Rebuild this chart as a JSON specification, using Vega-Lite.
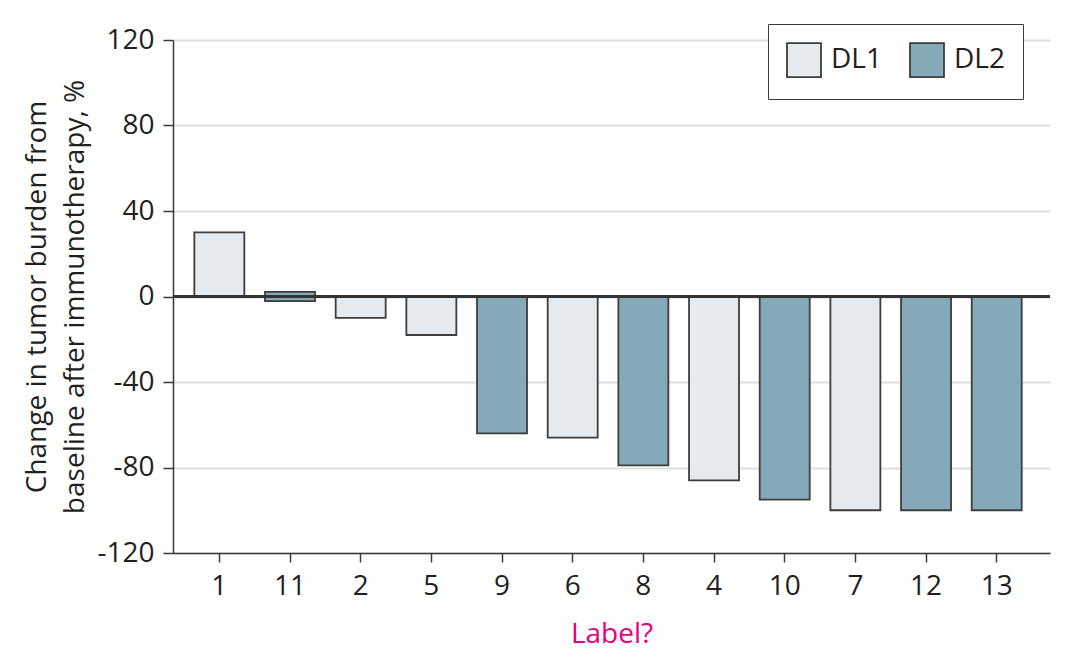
{
  "$schema": "https://vega.github.io/schema/vega-lite/v6.json",
  "description": "Waterfall-style bar chart of change in tumor burden by patient, coloured by dose level",
  "autosize": {"type": "none"},
  "padding": {"left": 173, "top": 40, "right": 30, "bottom": 107},
  "width": 877,
  "height": 513,
  "background": "white",
  "config": {
    "view": {"stroke": null},
    "font": "Open Sans",
    "axis": {
      "labelFont": "Open Sans",
      "titleFont": "Open Sans",
      "labelColor": "#231f20",
      "titleColor": "#231f20",
      "domainColor": "#3a3a3a",
      "tickColor": "#3a3a3a",
      "domainWidth": 1.5,
      "tickWidth": 1.5
    }
  },
  "data": {
    "values": [
      {"patient": "1", "value": 30, "base": 0, "dose": "DL1"},
      {"patient": "11", "value": 2.2, "base": -2.2, "dose": "DL2"},
      {"patient": "2", "value": -10, "base": 0, "dose": "DL1"},
      {"patient": "5", "value": -18, "base": 0, "dose": "DL1"},
      {"patient": "9", "value": -64, "base": 0, "dose": "DL2"},
      {"patient": "6", "value": -66, "base": 0, "dose": "DL1"},
      {"patient": "8", "value": -79, "base": 0, "dose": "DL2"},
      {"patient": "4", "value": -86, "base": 0, "dose": "DL1"},
      {"patient": "10", "value": -95, "base": 0, "dose": "DL2"},
      {"patient": "7", "value": -100, "base": 0, "dose": "DL1"},
      {"patient": "12", "value": -100, "base": 0, "dose": "DL2"},
      {"patient": "13", "value": -100, "base": 0, "dose": "DL2"}
    ]
  },
  "layer": [
    {
      "mark": {"type": "bar", "stroke": "#3d3d3d", "strokeWidth": 1.8},
      "encoding": {
        "x": {
          "field": "patient",
          "type": "nominal",
          "sort": null,
          "scale": {"paddingInner": 0.2925, "paddingOuter": 0.351, "align": 0.43},
          "axis": {
            "title": "Label?",
            "titleColor": "#e5007e",
            "titleFontSize": 28,
            "titleFontWeight": "normal",
            "titleBaseline": "alphabetic",
            "titleY": 89,
            "labelAngle": 0,
            "labelFontSize": 28,
            "labelPadding": 10,
            "tickSize": 9,
            "grid": false
          }
        },
        "y": {
          "field": "value",
          "type": "quantitative",
          "scale": {"domain": [-120, 120], "nice": false},
          "axis": {
            "values": [-120, -80, -40, 0, 40, 80, 120],
            "labelExpr": "'' + datum.value",
            "title": ["Change in tumor burden from", "baseline after immunotherapy, %"],
            "titleFontSize": 28,
            "titleFontWeight": "normal",
            "titleLineHeight": 38,
            "titleAngle": -90,
            "titleAlign": "center",
            "titleBaseline": "alphabetic",
            "titleX": -128,
            "titleY": 256.5,
            "labelFontSize": 28,
            "labelPadding": 9,
            "tickSize": 10,
            "grid": true,
            "gridColor": "#dedede",
            "gridWidth": 2
          }
        },
        "y2": {"field": "base"},
        "fill": {
          "field": "dose",
          "type": "nominal",
          "scale": {"domain": ["DL1", "DL2"], "range": ["#e4eaed", "#84a9b8"]},
          "legend": {
            "title": null,
            "orient": "none",
            "legendX": 595,
            "legendY": -16,
            "direction": "horizontal",
            "padding": 18,
            "strokeColor": "#3a3a3a",
            "fillColor": "white",
            "cornerRadius": 0,
            "symbolType": "square",
            "symbolSize": 1156,
            "symbolStrokeColor": "#3d3d3d",
            "symbolStrokeWidth": 1.8,
            "symbolOpacity": 1,
            "labelFont": "Open Sans",
            "labelFontSize": 28,
            "labelColor": "#231f20",
            "labelOffset": 9,
            "columnPadding": 24
          }
        }
      }
    },
    {
      "mark": {"type": "rule", "color": "#333333", "strokeWidth": 1.5},
      "encoding": {"y": {"datum": 0, "type": "quantitative"}}
    }
  ]
}
